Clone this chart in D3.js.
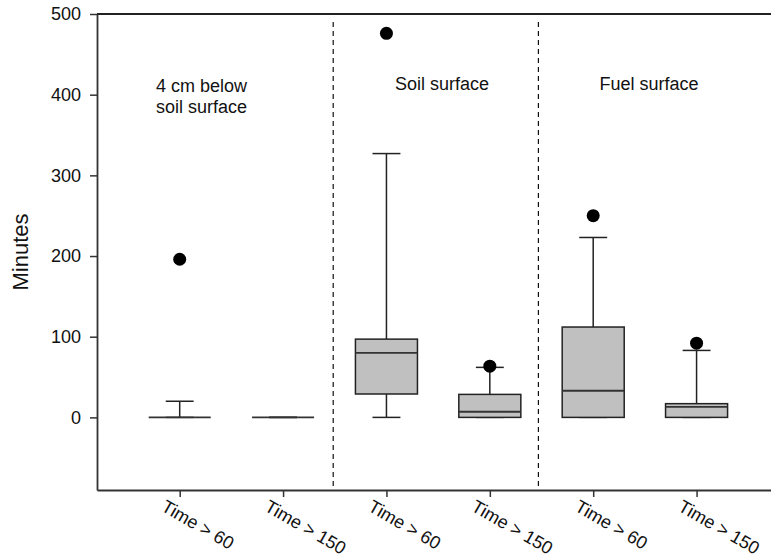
<!DOCTYPE html>
<html>
<head>
<meta charset="utf-8">
<script src="https://cdn.jsdelivr.net/npm/d3@7"></script>
<style>
    body { margin: 0; background: #ffffff; }
    svg { display: block; }
</style>
</head>
<body>
<div id="chart"></div>
<script>
// data
var categories = ['Time > 60', 'Time > 150', 'Time > 60', 'Time > 150', 'Time > 60', 'Time > 150'];
var groups = [['4 cm below', 'soil surface'], ['Soil surface'], ['Fuel surface']];
var whiskerLow = [0, 0, 0, 0, 0, 0];
var q1 = [0, 0, 29, 0, 0, 0];
var median = [0, 0, 80, 7, 33, 13];
var q3 = [0, 0, 97, 28.5, 112, 17];
var whiskerHigh = [20, 0, 327, 62, 223, 83];
var outliers = [196, null, 476, 63.5, 250, 92];
var yTicks = [0, 100, 200, 300, 400, 500];

var _width = 771;
var _height = 559;
var _font = 'Liberation Sans, Arial, sans-serif';
var _stroke = '#222222';

var svg = d3.select('#chart').append('svg')
    .attr('width', _width)
    .attr('height', _height);

// position 1..6 for the boxes, frame cut at right edge
var x = d3.scaleLinear().domain([0.2, 6.72]).range([97, 771]);
var y = d3.scaleLinear().domain([-90, 500]).range([490, 14]);

var boxW = 0.6;
var capW = 0.27;

// dashed separators between the three groups
[2.485, 4.47].forEach(function (d) {
    svg.append('line')
        .attr('x1', x(d)).attr('x2', x(d))
        .attr('y1', 22).attr('y2', 488)
        .attr('stroke', '#111')
        .attr('stroke-width', 1.2)
        .attr('stroke-dasharray', '5,4');
});

// group labels
var labelX = [201.5, 442, 649];
var labelY = [92, 90, 90];
groups.forEach(function (lines, g) {
    var t = svg.append('text')
        .attr('x', labelX[g])
        .attr('y', labelY[g])
        .attr('font-family', _font)
        .attr('font-size', 18)
        .attr('text-anchor', 'middle')
        .attr('fill', '#111');
    lines.forEach(function (s, k) {
        t.append('tspan')
            .attr('x', labelX[g])
            .attr('dy', k === 0 ? 0 : 21)
            .text(s);
    });
});

// boxes
categories.forEach(function (c, i) {
    var pos = i + 1;
    var g = svg.append('g');

    // whisker stems
    g.append('line')
        .attr('x1', x(pos)).attr('x2', x(pos))
        .attr('y1', y(q3[i])).attr('y2', y(whiskerHigh[i]))
        .attr('stroke', _stroke).attr('stroke-width', 1.5);
    g.append('line')
        .attr('x1', x(pos)).attr('x2', x(pos))
        .attr('y1', y(q1[i])).attr('y2', y(whiskerLow[i]))
        .attr('stroke', _stroke).attr('stroke-width', 1.5);

    // caps
    [whiskerLow[i], whiskerHigh[i]].forEach(function (v) {
        g.append('line')
            .attr('x1', x(pos - capW / 2)).attr('x2', x(pos + capW / 2))
            .attr('y1', y(v)).attr('y2', y(v))
            .attr('stroke', _stroke).attr('stroke-width', 1.5);
    });

    g.append('rect')
        .attr('x', x(pos - boxW / 2))
        .attr('y', y(q3[i]))
        .attr('width', x(pos + boxW / 2) - x(pos - boxW / 2))
        .attr('height', Math.max(0, y(q1[i]) - y(q3[i])))
        .attr('fill', '#c0c0c0')
        .attr('stroke', _stroke)
        .attr('stroke-width', 1.5);

    g.append('line')
        .attr('x1', x(pos - boxW / 2)).attr('x2', x(pos + boxW / 2))
        .attr('y1', y(median[i])).attr('y2', y(median[i]))
        .attr('stroke', '#333').attr('stroke-width', 1.8);

    if (outliers[i] !== null) {
        g.append('circle')
            .attr('cx', x(pos))
            .attr('cy', y(outliers[i]))
            .attr('r', 6.5)
            .attr('fill', '#000');
    }
});

// axes
var yAxis = svg.append('g')
    .attr('transform', 'translate(' + x(0.2) + ',0)')
    .call(d3.axisLeft(y).tickValues(yTicks).tickSize(7).tickSizeOuter(0).tickPadding(9));

var xAxis = svg.append('g')
    .attr('transform', 'translate(0,' + y(-90) + ')')
    .call(d3.axisBottom(x).tickValues(d3.range(1, 7)).tickSize(7).tickSizeOuter(0)
        .tickFormat(function (d) { return categories[d - 1]; }));

[yAxis, xAxis].forEach(function (a) {
    a.select('.domain').attr('stroke', '#333').attr('stroke-width', 1.8);
    a.selectAll('.tick line').attr('stroke', '#333').attr('stroke-width', 1.5);
    a.selectAll('text')
        .attr('font-family', _font)
        .attr('font-size', 18)
        .attr('fill', '#111');
});

xAxis.selectAll('.tick text')
    .attr('text-anchor', 'start')
    .attr('dy', null)
    .attr('y', null)
    .attr('transform', 'translate(-20,20) rotate(30)');

// top frame line
svg.append('line')
    .attr('x1', x(0.2)).attr('x2', _width)
    .attr('y1', y(500)).attr('y2', y(500))
    .attr('stroke', '#222').attr('stroke-width', 1.8);

// y title
svg.append('text')
    .attr('transform', 'translate(28,252) rotate(-90)')
    .attr('text-anchor', 'middle')
    .attr('font-family', _font)
    .attr('font-size', 22)
    .attr('fill', '#111')
    .text('Minutes');
</script>
</body>
</html>
